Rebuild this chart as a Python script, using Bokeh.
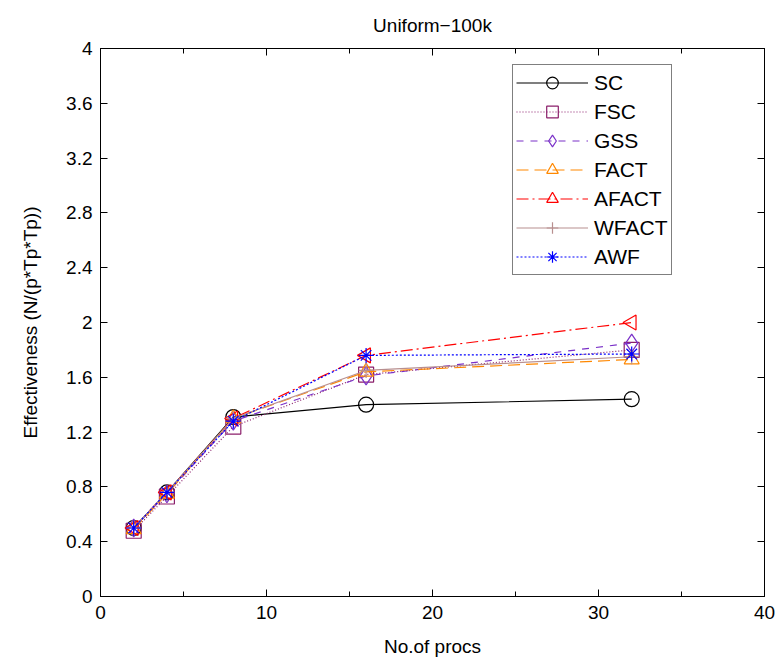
import math
from bokeh.plotting import figure
from bokeh.models import FixedTicker, LinearAxis, Legend, LegendItem, Range1d
from bokeh.embed import file_html
from bokeh.resources import INLINE

procs = [2, 4, 8, 16, 32]
sc = [0.50, 0.76, 1.31, 1.40, 1.44]
fsc = [0.48, 0.73, 1.24, 1.62, 1.80]
gss = [0.50, 0.75, 1.28, 1.61, 1.85]
fact = [0.49, 0.75, 1.30, 1.64, 1.73]
afact = [0.50, 0.76, 1.30, 1.76, 2.00]
wfact = [0.50, 0.76, 1.30, 1.65, 1.75]
awf = [0.50, 0.76, 1.28, 1.76, 1.77]

x_ticks = [0, 10, 20, 30, 40]
x_minor = [5, 15, 25, 35]
y_ticks = [0, 0.4, 0.8, 1.2, 1.6, 2, 2.4, 2.8, 3.2, 3.6, 4]
y_labels = ["0", "0.4", "0.8", "1.2", "1.6", "2", "2.4", "2.8", "3.2", "3.6", "4"]

FONT = "Liberation Sans"

p = figure(width=779, height=664, output_backend="svg", toolbar_location=None,
           x_range=Range1d(0, 40), y_range=Range1d(0, 4),
           title="Uniform\u2212100k", x_axis_label="No.of procs",
           y_axis_label="Effectiveness (N/(p*Tp*Tp))",
           min_border_left=100, min_border_right=15, min_border_top=48, min_border_bottom=68)
p.title.align = "center"
p.title.text_font = FONT
p.title.text_font_size = "19px"
p.title.text_font_style = "normal"
p.title.text_color = "black"
p.title.offset = 0
p.title.standoff = 25
p.xgrid.visible = False
p.ygrid.visible = False
p.outline_line_color = "black"
p.outline_line_width = 1
p.background_fill_color = "white"
p.border_fill_color = "white"


def style_axis(ax, labels=True):
    ax.axis_line_color = "black"
    ax.major_tick_in = 7
    ax.major_tick_out = 0
    ax.minor_tick_in = 5
    ax.minor_tick_out = 0
    ax.major_tick_line_color = "black"
    ax.minor_tick_line_color = "black"
    ax.major_label_text_font = FONT
    ax.major_label_text_font_size = "19px"
    ax.major_label_text_color = "black"
    ax.axis_label_text_font = FONT
    ax.axis_label_text_font_size = "19px"
    ax.axis_label_text_font_style = "normal"
    ax.axis_label_text_color = "black"
    if not labels:
        ax.major_label_text_font_size = "0px"
        ax.major_label_text_alpha = 0


xt = FixedTicker(ticks=x_ticks, minor_ticks=x_minor)
yt = FixedTicker(ticks=y_ticks, minor_ticks=[])
overrides = {t: l for t, l in zip(y_ticks, y_labels)}

p.xaxis.ticker = xt
p.yaxis.ticker = yt
p.yaxis.major_label_overrides = overrides
style_axis(p.xaxis[0])
style_axis(p.yaxis[0])
p.xaxis.major_label_standoff = 9
p.yaxis.major_label_standoff = 8
p.xaxis.axis_label_standoff = 14
p.yaxis.axis_label_standoff = 22

top = LinearAxis(ticker=FixedTicker(ticks=x_ticks, minor_ticks=x_minor), major_label_text_font_size="0px")
right = LinearAxis(ticker=FixedTicker(ticks=y_ticks, minor_ticks=[]), major_label_text_font_size="0px")
style_axis(top, False)
style_axis(right, False)
p.add_layout(top, "above")
p.add_layout(right, "right")
top.major_label_standoff = 0
right.major_label_standoff = 0

series = [
    ("SC", sc, "black", "solid", "circle", 0.0),
    ("FSC", fsc, "#8b1f6b", "1 2", "square", 0.0),
    ("GSS", gss, "#7a30c8", "7 7", "diamond", 0.0),
    ("FACT", fact, "#ff8800", "12 6", "triangle", 0.0),
    ("AFACT", afact, "red", "12 4 2 4", "triangle", math.pi / 2),
    ("WFACT", wfact, "#b88f8f", "solid", "cross", 0.0),
    ("AWF", awf, "blue", "2 2", "asterisk", 0.0),
]

items = []
for name, ys, color, dash, marker, ang in series:
    r1 = p.line(procs, ys, line_color=color, line_dash=dash, line_width=1.2)
    r2 = p.scatter(procs, ys, marker=marker, size=15 if marker != "diamond" else 18,
                   angle=ang, line_color=color, fill_color=None, line_width=1.2)
    items.append(LegendItem(label=name, renderers=[r1, r2]))

legend = Legend(items=items, location=(412, 321))
legend.label_text_font = FONT
legend.label_text_font_size = "21px"
legend.label_text_color = "black"
legend.glyph_width = 72
legend.glyph_height = 29
legend.label_height = 22
legend.spacing = 0
legend.padding = 3
legend.margin = 0
legend.label_standoff = 6
legend.border_line_color = "black"
legend.border_line_width = 1
legend.background_fill_alpha = 1
p.add_layout(legend, "center")

open("out.html", "w").write(file_html(p, INLINE))
